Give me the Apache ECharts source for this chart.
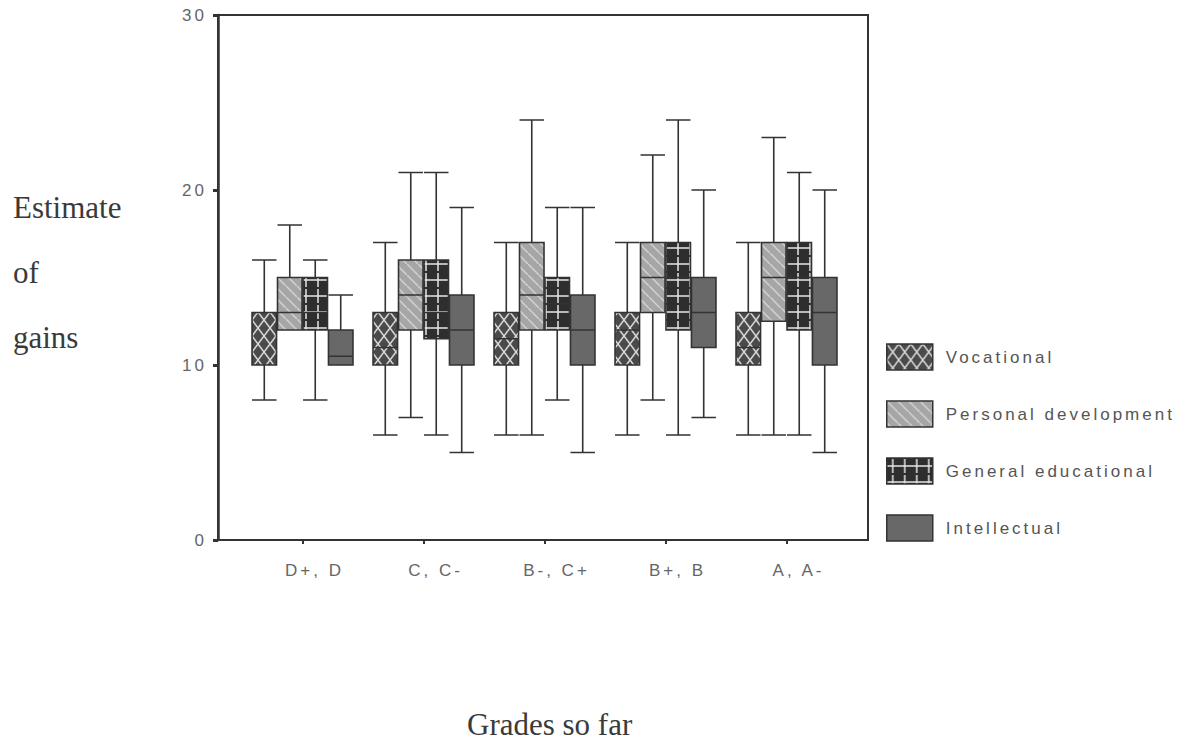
<!DOCTYPE html>
<html><head><meta charset="utf-8">
<script src="https://cdn.jsdelivr.net/npm/echarts@6/dist/echarts.min.js"></script>
<style>
html,body{margin:0;padding:0;background:#fff;}
#chart{width:1185px;height:742px;}
#chart text{letter-spacing:3px;}
</style></head><body><div id="chart"></div>
<script>
const categories = ['D+, D', 'C, C-', 'B-, C+', 'B+, B', 'A, A-'];
const seriesNames = ['Vocational', 'Personal development', 'General educational', 'Intellectual'];
// each box: [min, Q1, median, Q3, max]
const vocational   = [[8, 10, 10, 13, 16], [6, 10, 11, 13, 17], [6, 10, 11.5, 13, 17], [6, 10, 12, 13, 17], [6, 10, 11, 13, 17]];
const personal     = [[12, 12, 13, 15, 18], [7, 12, 14, 16, 21], [6, 12, 14, 17, 24], [8, 13, 15, 17, 22], [6, 12.5, 15, 17, 23]];
const general      = [[8, 12, 13, 15, 16], [6, 11.5, 13, 16, 21], [8, 12, 13.5, 15, 19], [6, 12, 15, 17, 24], [6, 12, 15, 17, 21]];
const intellectual = [[10, 10, 10.5, 12, 14], [5, 10, 12, 14, 19], [5, 10, 12, 14, 19], [7, 11, 13, 15, 20], [5, 10, 13, 15, 20]];
const yTicks = [0, 10, 20, 30];
const yTitleLines = ['Estimate', 'of', 'gains'];
const xTitle = 'Grades so far';

function makeTile(w, h, bg, draw) {
  const c = document.createElement('canvas');
  c.width = w; c.height = h;
  const g = c.getContext('2d');
  g.fillStyle = bg; g.fillRect(0, 0, w, h);
  draw(g);
  return c;
}
const vocTile = makeTile(12, 16, '#4a4a4a', g => {
  g.strokeStyle = '#d6d6d6'; g.lineWidth = 1.6;
  g.beginPath(); g.moveTo(0, 0); g.lineTo(12, 16); g.moveTo(12, 0); g.lineTo(0, 16); g.stroke();
});
const persTile = makeTile(11, 11, '#a6a6a6', g => {
  g.strokeStyle = '#d2d2d2'; g.lineWidth = 1.5;
  g.beginPath(); g.moveTo(-1, -1); g.lineTo(12, 12); g.stroke();
});
const genTile = makeTile(12, 16, '#2e2e2e', g => {
  g.strokeStyle = '#e6e6e6'; g.lineWidth = 1.5;
  g.beginPath(); g.moveTo(0, 8); g.lineTo(12, 8); g.moveTo(6, 1); g.lineTo(6, 15); g.stroke();
});
const fills = [
  { image: vocTile, repeat: 'repeat' },
  { image: persTile, repeat: 'repeat' },
  { image: genTile, repeat: 'repeat' },
  '#686868'
];
const dataSets = [vocational, personal, general, intellectual];
const edge = '#333';

const chart = echarts.init(document.getElementById('chart'), null, { renderer: 'svg' });
const serif = '31px "Liberation Serif", "Times New Roman", serif';
const sans = '"Liberation Sans", Arial, sans-serif';
chart.setOption({
  animation: false,
  backgroundColor: '#fff',
  grid: [
    { left: 218, right: 317, top: 15, bottom: 202, show: true, borderColor: '#333', borderWidth: 2, backgroundColor: 'transparent', outerBoundsMode: 'none', containLabel: false },
    { left: 242, right: 338, top: 15, bottom: 202, outerBoundsMode: 'none', containLabel: false }
  ],
  xAxis: [
    { gridIndex: 0, type: 'value', show: false, min: 0, max: 1 },
    { gridIndex: 1, type: 'category', data: categories,
      axisLine: { show: false },
      axisTick: { show: true, alignWithLabel: true, length: 4, lineStyle: { color: '#333', width: 2 } },
      axisLabel: { color: '#666', fontSize: 17, fontFamily: sans, margin: 22, padding: [0, 0, 0, 24] },
      splitLine: { show: false } }
  ],
  yAxis: [
    { gridIndex: 0, type: 'value', show: false, min: 0, max: 1 },
    { gridIndex: 1, type: 'value', min: 0, max: 30, interval: 10, offset: 24,
      axisLine: { show: true, lineStyle: { color: '#333', width: 2.5 } },
      axisTick: { show: true, length: 5, lineStyle: { color: '#333', width: 3 } },
      axisLabel: { color: '#666', fontSize: 17, fontFamily: sans, margin: 11,
        formatter: v => yTicks.includes(v) ? String(v) : '' },
      splitLine: { show: false } }
  ],
  legend: {
    orient: 'vertical', left: 886, top: 337, padding: 0, itemGap: 17,
    itemWidth: 46, itemHeight: 26, icon: 'rect', selectedMode: false,
    data: seriesNames.map((n, i) => ({ name: n, itemStyle: { color: fills[i], borderColor: edge, borderWidth: 1.5 } })),
    textStyle: { color: '#555', fontSize: 17, fontFamily: sans, lineHeight: 18, padding: [22, 0, 0, 8] }
  },
  graphic: [
    { type: 'text', x: 13, y: 207, silent: true, style: { text: yTitleLines[0], font: serif, fill: '#3a3a3a', align: 'left', verticalAlign: 'middle' } },
    { type: 'text', x: 13, y: 272, silent: true, style: { text: yTitleLines[1], font: serif, fill: '#3a3a3a', align: 'left', verticalAlign: 'middle' } },
    { type: 'text', x: 13, y: 337, silent: true, style: { text: yTitleLines[2], font: serif, fill: '#3a3a3a', align: 'left', verticalAlign: 'middle' } },
    { type: 'text', x: 467, y: 724, silent: true, style: { text: xTitle, font: serif, fill: '#3a3a3a', align: 'left', verticalAlign: 'middle' } }
  ],
  series: seriesNames.map((n, i) => ({
    name: n, type: 'boxplot', xAxisIndex: 1, yAxisIndex: 1,
    data: dataSets[i], boxWidth: [24.5, 24.5], silent: true,
    itemStyle: { color: fills[i], borderColor: edge, borderWidth: 1.6 },
    emphasis: { disabled: true }
  }))
});
function fixSpacing() {
  document.querySelectorAll('#chart text').forEach(t => {
    const ff = getComputedStyle(t).fontFamily || '';
    if (/Serif|Times/i.test(ff) && !/Sans/i.test(ff)) t.style.letterSpacing = '0px';
  });
}
chart.on('finished', fixSpacing);
fixSpacing();
</script></body></html>
